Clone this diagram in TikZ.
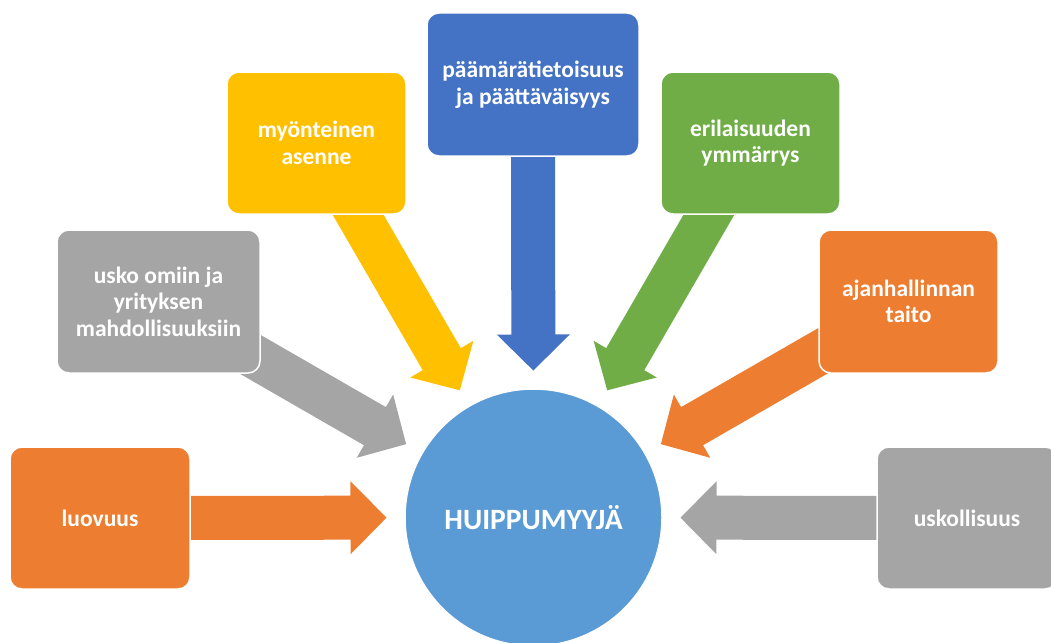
\documentclass[tikz,border=0pt]{standalone}
\usepackage{fontspec}
\setmainfont{Carlito}
\usetikzlibrary{calc,backgrounds}
\definecolor{cOrange}{HTML}{ED7D31}
\definecolor{cGray}{HTML}{A5A5A5}
\definecolor{cYellow}{HTML}{FFC000}
\definecolor{cBlue}{HTML}{4472C4}
\definecolor{cGreen}{HTML}{70AD47}
\definecolor{cHub}{HTML}{5B9BD5}
\newcommand\blockarr[3]{%
  \coordinate (t#1) at ($(#2)!147pt!(#1)$);
  \coordinate (h#1) at ($(#2)!183pt!(#1)$);
  \fill[#3] (t#1) -- ($(h#1)!36.5pt!90:(#2)$) -- ($(h#1)!22pt!90:(#2)$)
    -- ($(#1)!22pt!90:(#2)$) -- ($(#1)!22pt!-90:(#2)$)
    -- ($(h#1)!22pt!-90:(#2)$) -- ($(h#1)!36.5pt!-90:(#2)$) -- cycle;}
\tikzset{
  box/.style={rectangle, rounded corners=12pt, draw=white, line width=1.5pt,
    text=white, align=center, inner sep=0pt,
    font=\fontsize{23.5}{26.5}\selectfont\bfseries},
  hubnode/.style={circle, fill=cHub, draw=white, line width=1.5pt, text=white,
    minimum size=257pt, inner sep=0pt, font=\fontsize{29.5}{34}\selectfont\bfseries}
}
\begin{document}
\begin{tikzpicture}[x=1pt,y=-1pt]
\useasboundingbox (0,0) rectangle (1051,642);
\node[hubnode] (hub) at (533.5,517.5) {HUIPPUMYYJÄ};
\node[box, fill=cOrange, minimum width=180pt, minimum height=142pt] (luo) at (100,518) {luovuus};
\node[box, fill=cGray, minimum width=180pt, minimum height=142pt] (usk) at (967,518) {uskollisuus};
\node[box, fill=cGray, minimum width=203pt, minimum height=143pt] (usko) at (158.5,301.5) {usko omiin ja\\yrityksen\\mahdollisuuksiin};
\node[box, fill=cYellow, minimum width=179pt, minimum height=142pt] (myo) at (316.5,143) {myönteinen\\asenne};
\node[box, fill=cBlue, minimum width=212pt, minimum height=143pt] (paa) at (533,84.5) {päämärätietoisuus\\ja päättäväisyys};
\node[box, fill=cGreen, minimum width=179pt, minimum height=142pt] (eri) at (750.5,143) {erilaisuuden\\ymmärrys};
\node[box, fill=cOrange, minimum width=179pt, minimum height=143pt] (aja) at (908.5,301.5) {ajanhallinnan\\taito};
\begin{pgfonlayer}{background}
\blockarr{luo}{hub}{cOrange}
\blockarr{usk}{hub}{cGray}
\blockarr{usko}{hub}{cGray}
\blockarr{myo}{hub}{cYellow}
\blockarr{paa}{hub}{cBlue}
\blockarr{eri}{hub}{cGreen}
\blockarr{aja}{hub}{cOrange}
\end{pgfonlayer}
\end{tikzpicture}
\end{document}
